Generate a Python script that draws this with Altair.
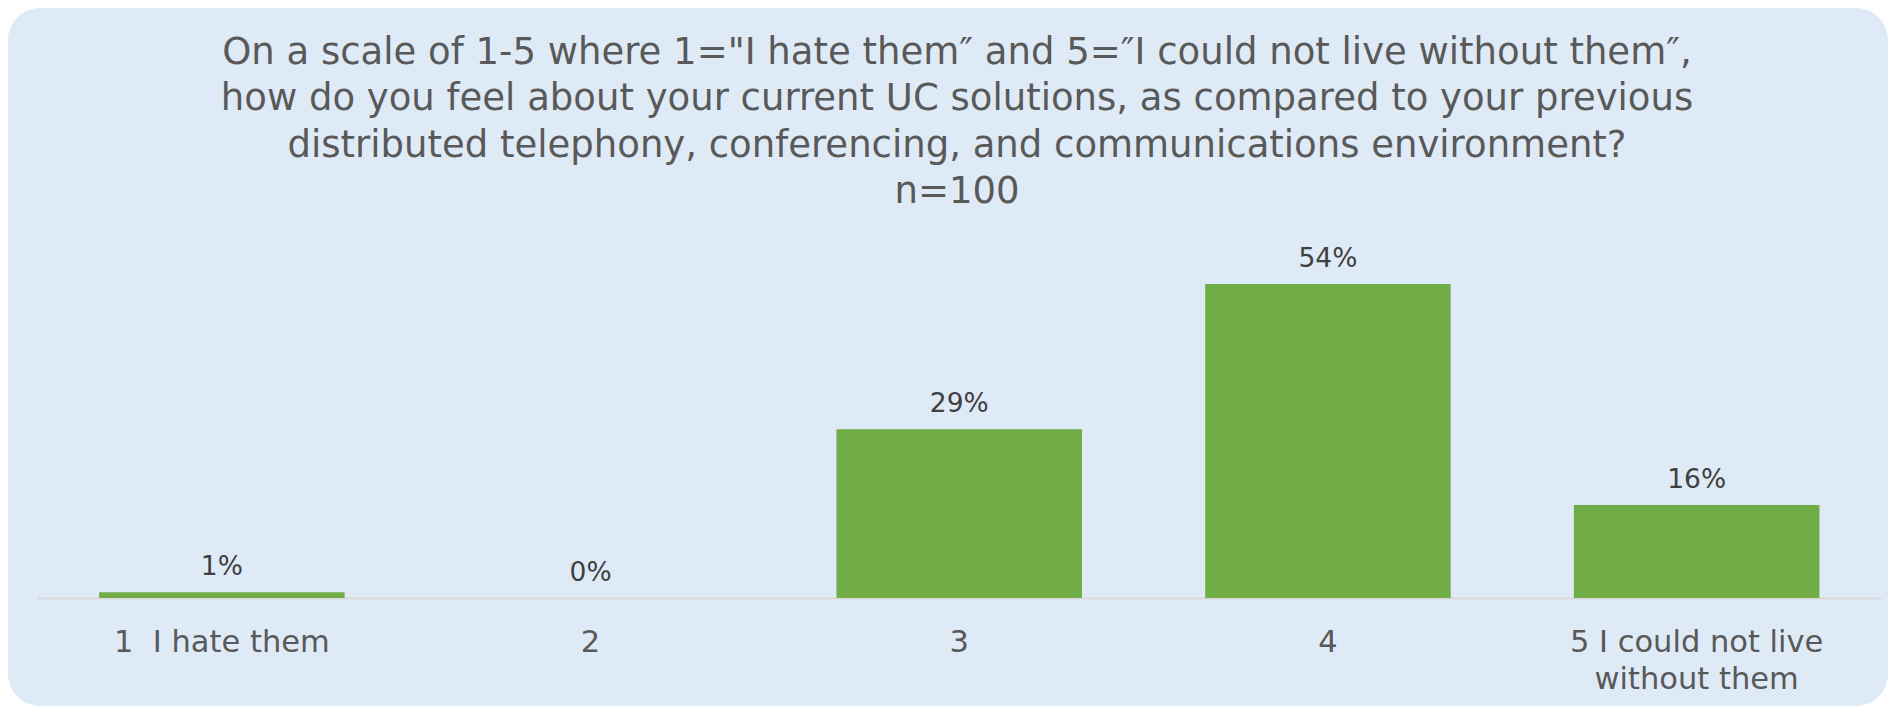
import altair as alt
import pandas as pd

# ---- data ----
categories = ["1\u00a0 I hate them", "2", "3", "4", "5 I could not live without them"]
values = [1, 0, 29, 54, 16]
value_labels = ["1%", "0%", "29%", "54%", "16%"]
title_lines = [
    'On a scale of 1-5 where 1="I hate them\u2033 and 5=\u2033I could not live without them\u2033,',
    "how do you feel about your current UC solutions, as compared to your previous",
    "distributed telephony, conferencing, and communications environment?",
    "n=100",
]

df = pd.DataFrame({"category": categories, "value": values, "label": value_labels})

W, H = 1880, 698
FONT = "DejaVu Sans"
CARD = "#DEEBF7"
GREEN = "#70AD47"

x_enc = alt.X(
    "category:N",
    sort=categories,
    scale=alt.Scale(range=[29.5, 1873], paddingInner=0.334, paddingOuter=0.167),
    axis=alt.Axis(
        title=None,
        orient="bottom",
        offset=-108,
        ticks=False,
        domainColor="#D9D9D9",
        domainWidth=2,
        labelAngle=0,
        labelFont=FONT,
        labelFontSize=30.5,
        labelColor="#595959",
        labelPadding=29,
        labelLineHeight=37,
        labelBaseline="top",
        labelLimit=0,
        labelExpr="datum.label == '5 I could not live without them' ? ['5 I could not live', 'without them'] : datum.label",
    ),
)
y_enc = alt.Y(
    "value:Q",
    scale=alt.Scale(domain=[0, 60], range=[590, 241]),
    axis=None,
)

bars = alt.Chart(df).mark_bar(color=GREEN).encode(x=x_enc, y=y_enc)

labels = alt.Chart(df).mark_text(
    font=FONT, fontSize=26.5, color="#404040", baseline="bottom", dy=-11
).encode(x=alt.X("category:N", sort=categories), y=alt.Y("value:Q"), text="label:N")

title = alt.Chart(pd.DataFrame({"t": ["\n".join(title_lines)]})).mark_text(
    font=FONT,
    fontSize=37,
    color="#595959",
    align="center",
    baseline="top",
    lineBreak="\n",
    lineHeight=46.4,
).encode(x=alt.value(W / 2 + 9), y=alt.value(27), text="t:N")

chart = (
    alt.layer(bars, labels, title)
    .properties(width=W, height=H, autosize=alt.AutoSizeParams(type="none"), padding=0,
                background="white")
    .configure_view(stroke=None, fill=CARD, cornerRadius=32)
)

chart.save("out.html", embed_options={"renderer": "svg", "actions": False})
